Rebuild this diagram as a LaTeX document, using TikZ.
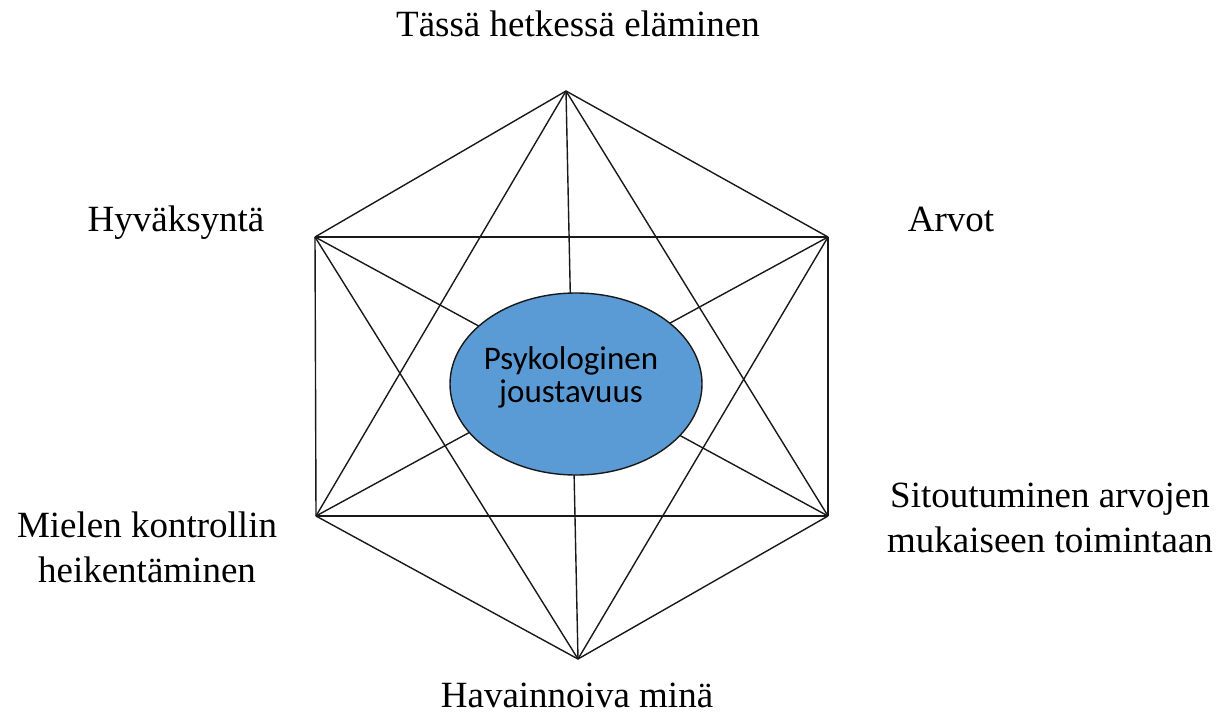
\documentclass[tikz,border=0pt]{standalone}
\usepackage{fontspec}
\usetikzlibrary{shapes.geometric}
\setmainfont{Liberation Serif}
\newfontfamily\calib{Carlito}
\definecolor{ellblue}{HTML}{5B9BD5}
\begin{document}
\begin{tikzpicture}[x=1pt,y=-1pt,
  edge/.style={draw=black!90,line width=1.4pt},
  lbl/.style={inner sep=0pt,align=center,font=\fontsize{37}{45}\selectfont},
  core/.style={ellipse,draw=black!90,line width=1.4pt,fill=ellblue,minimum width=252pt,minimum height=182pt,inner sep=0pt},
  coretext/.style={inner sep=0pt,align=center,font=\calib\fontsize{33}{33}\selectfont,xshift=-5pt,yshift=7pt}]
\useasboundingbox (0,0) rectangle (1223,715);
\coordinate (T) at (566,91);
\coordinate (UL) at (315,237);
\coordinate (UR) at (828,237);
\coordinate (LL) at (316,516);
\coordinate (LR) at (828,516);
\coordinate (B) at (578,659);
\foreach \a/\b in {T/UL,T/UR,UL/LL,UR/LR,LL/B,LR/B,T/LL,T/LR,T/B,UL/UR,LL/LR,UL/LR,UR/LL,UL/B,UR/B}
  \draw[edge] (\a) -- (\b);
\node[core,label={[coretext]center:Psykologinen\\joustavuus}] (c) at (576,384) {};
\node[lbl,anchor=base] (lt) at (578,36) {Tässä hetkessä eläminen};
\node[lbl,anchor=base] (lul) at (176,231) {Hyväksyntä};
\node[lbl,anchor=base] (lur) at (951,231) {Arvot};
\node[lbl,anchor=base] (lll) at (147,582) {Mielen kontrollin\\heikentäminen};
\node[lbl,anchor=base] (llr) at (1050,552) {Sitoutuminen arvojen\\mukaiseen toimintaan};
\node[lbl,anchor=base] (lb) at (577,707) {Havainnoiva minä};
\end{tikzpicture}
\end{document}
